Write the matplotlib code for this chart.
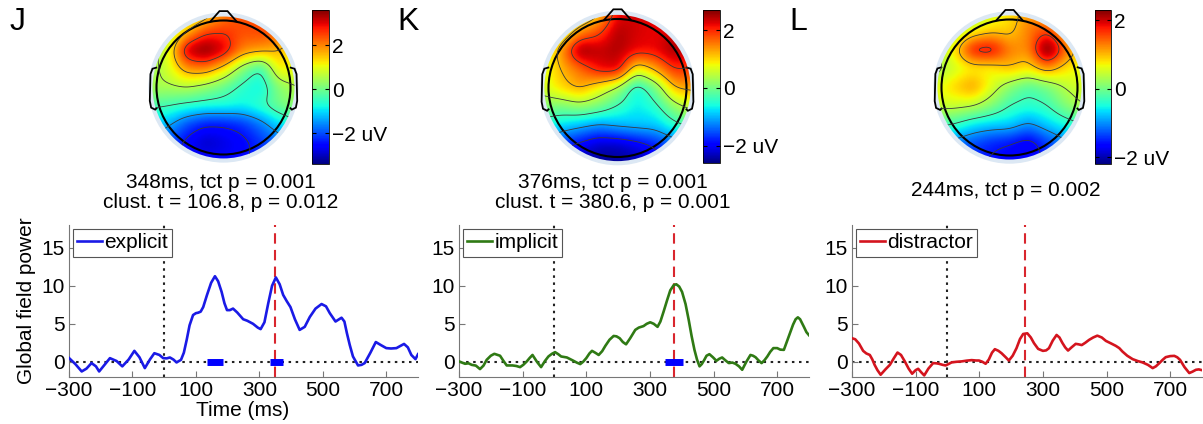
import numpy as np
import matplotlib
matplotlib.use("Agg")
import matplotlib.pyplot as plt
from matplotlib.patches import Circle, Polygon

plt.rcParams['font.family'] = ['Liberation Sans', 'DejaVu Sans']
plt.rcParams['font.size'] = 15

W, H = 1203, 424

# ---- GFP curves (time in ms, value) ----
t_explicit = [-300, -280, -260, -245, -229, -215, -205, -190, -171, -150, -132, -112, -94, -78,
              -61, -45, -31, -15, -3, 8, 18, 29, 39, 53, 62, 71, 80, 91, 100, 107, 115, 123,
              135, 148, 160, 170, 181, 190, 198, 207, 217, 230, 249, 262, 280, 295, 304, 316,
              328, 340, 352, 364, 375, 386, 398, 412, 427, 443, 459, 477, 496, 510, 522, 540,
              559, 568, 576, 585, 595, 611, 622, 632, 650, 667, 683, 700, 715, 732, 745, 756,
              768, 779, 792, 800]
v_explicit = [0.5, -0.3, -1.27, -0.9, -0.17, -0.6, -1.27, -0.5, 0.48, 0.1, -0.6, 0.3, 1.44, 0.6,
              -0.83, 0.3, 1.13, 0.9, 0.48, 0.45, 0.57, 0.3, -0.08, 0.26, 1.2, 2.9, 4.8, 6.15,
              6.4, 6.46, 6.6, 7.2, 8.8, 10.4, 11.26, 10.6, 9.2, 7.7, 6.8, 6.8, 7.0, 6.5, 5.6,
              5.4, 5.0, 4.5, 4.3, 5.2, 7.7, 10.0, 11.1, 10.2, 8.8, 8.0, 7.2, 5.6, 4.2, 4.6, 5.9,
              7.0, 7.6, 7.3, 6.4, 5.3, 5.8, 5.3, 3.75, 2.2, 0.7, -0.48, -0.4, -0.17, 1.2, 2.6,
              2.2, 1.8, 1.75, 1.8, 2.1, 2.35, 1.9, 0.9, 0.35, 1.0]

t_implicit = [-300, -281, -270, -260, -247, -234, -223, -213, -200, -189, -171, -160, -150, -132,
              -120, -108, -98, -87, -78, -69, -55, -42, -30, -19, -8, 2, 12, 21, 39, 58, 70, 81,
              90, 100, 110, 118, 128, 139, 150, 160, 173, 186, 195, 205, 215, 225, 238, 254,
              265, 280, 290, 301, 312, 324, 333, 343, 354, 364, 375, 383, 392, 401, 412, 422,
              431, 440, 448, 456, 463, 471, 478, 487, 498, 509, 518, 527, 537, 548, 559, 569,
              580, 590, 603, 616, 624, 632, 641, 651, 660, 669, 678, 688, 700, 710, 721, 730,
              740, 750, 758, 765, 772, 784, 792, 800]
v_implicit = [0.05, -0.26, -0.2, -0.4, -0.5, -0.96, -0.5, 0.26, 0.8, 1.05, 0.8, 0.1, -0.48, -0.48,
              -0.55, -0.7, -0.4, 0.05, 0.5, 0.9, 0.0, -0.7, 0.1, 0.7, 1.05, 1.27, 1.0, 0.7, 0.57,
              0.17, -0.1, -0.3, 0.0, 0.48, 1.1, 1.44, 1.2, 0.9, 1.4, 2.1, 2.9, 3.4, 3.35, 3.1,
              2.6, 2.3, 3.1, 4.2, 4.5, 4.7, 5.0, 5.2, 5.0, 4.6, 5.3, 6.6, 8.1, 9.4, 10.1, 10.2,
              9.9, 9.2, 7.6, 5.5, 3.4, 1.57, 0.3, -0.6, -0.3, 0.26, 0.8, 1.0, 0.6, 0.13, 0.4,
              0.57, 0.2, -0.17, -0.1, -0.26, -0.6, -1.05, 0.0, 0.9, 0.8, 0.6, 0.2, -0.17, 0.2,
              0.7, 1.3, 1.8, 1.8, 1.6, 1.57, 2.6, 3.75, 4.9, 5.6, 5.85, 5.6, 4.6, 3.9, 3.5]

t_distractor = [-300, -290, -278, -265, -255, -244, -236, -229, -220, -210, -195, -181, -168,
                -157, -146, -134, -122, -111, -100, -92, -82, -73, -60, -45, -35, -27, -15, -6,
                3, 13, 28, 44, 60, 76, 90, 99, 110, 120, 130, 140, 149, 160, 170, 183, 193, 205,
                217, 228, 238, 251, 262, 272, 285, 300, 310, 319, 331, 343, 352, 361, 370, 379,
                390, 403, 412, 422, 433, 445, 458, 471, 485, 498, 515, 529, 540, 550, 565, 582,
                598, 613, 630, 645, 655, 666, 676, 686, 700, 713, 722, 731, 745, 760, 770, 781,
                790, 800]
v_distractor = [3.1, 2.97, 2.4, 1.44, 1.1, 0.9, 0.3, -0.4, -1.1, -1.7, -1.0, -0.4, 0.5, 1.22,
                0.9, 0.05, -0.9, -1.57, -1.1, -0.92, -1.4, -1.79, -0.9, -0.17, -0.2, -0.26, -0.4,
                -0.48, -0.3, -0.08, 0.0, 0.05, 0.15, 0.22, 0.17, 0.17, 0.0, -0.26, 0.3, 1.2,
                1.66, 1.45, 1.13, 0.6, 0.17, 0.8, 1.79, 3.0, 3.66, 3.75, 3.2, 2.45, 1.7, 1.44,
                1.5, 1.79, 2.8, 3.53, 3.2, 2.5, 1.9, 1.48, 1.9, 2.36, 2.3, 2.2, 2.5, 2.88, 3.2,
                3.44, 3.2, 2.75, 2.4, 2.1, 1.8, 1.35, 0.8, 0.35, 0.1, -0.08, -0.4, -0.83, -0.6,
                -0.17, 0.25, 0.61, 0.75, 0.78, 0.6, 0.26, -0.7, -1.48, -1.3, -1.05, -1.0, -1.1]

peak_times = [348, 376, 244]
sig_explicit = [(135, 184), (335, 373)]
sig_implicit = [(348, 404)]
sig_distractor = []

# ---- topography samples: 9x9 grid, x and y from -1.1 to 1.1, rows top -> bottom ----
topo_explicit = [[0.3, 0.4, 0.6, 1.2, 2.0, 2.4, 2.3, 2.0, 1.8],
                 [0.3, 0.5, 1.6, 2.5, 2.6, 2.4, 2.5, 2.3, 2.0],
                 [0.3, 1.0, 3.3, 3.7, 3.1, 2.0, 1.8, 1.6, 1.0],
                 [0.3, 0.9, 1.9, 2.0, 1.3, 0.2, -0.6, 1.3, 1.0],
                 [0.5, 0.5, 0.6, 0.3, -0.1, -0.6, -0.9, 0.2, 0.6],
                 [-0.3, -0.4, -0.6, -0.7, -0.7, -0.8, -0.5, 0.0, 0.3],
                 [-1.0, -1.3, -2.0, -2.4, -2.4, -2.2, -1.7, -1.0, -0.6],
                 [-1.5, -2.0, -2.6, -3.0, -2.8, -2.6, -2.2, -1.8, -1.3],
                 [-1.8, -2.2, -2.5, -2.6, -2.6, -2.5, -2.2, -2.0, -1.8]]
topo_implicit = [[0.0, 0.3, 0.5, 1.0, 2.2, 2.3, 2.2, 2.0, 1.8],
                 [0.0, 0.5, 1.4, 1.8, 2.5, 2.3, 2.2, 2.3, 2.0],
                 [0.5, 1.4, 2.7, 2.4, 2.5, 2.2, 2.2, 2.6, 2.2],
                 [0.6, 1.2, 1.6, 2.2, 2.3, 0.7, 1.3, 2.0, 1.9],
                 [0.6, 1.0, 1.3, 0.8, 0.3, -0.7, 0.0, 1.2, 1.3],
                 [0.1, 0.0, 0.2, 0.0, -0.4, -0.7, -0.5, 0.2, 0.6],
                 [-0.6, -0.8, -1.0, -1.2, -1.0, -0.9, -0.9, -0.5, -0.2],
                 [-1.3, -1.7, -2.0, -2.3, -2.3, -2.1, -1.8, -1.4, -1.1],
                 [-1.8, -2.1, -2.4, -2.5, -2.5, -2.4, -2.1, -1.8, -1.5]]
topo_distractor = [[0.0, 0.0, 0.2, 0.5, 0.8, 1.2, 1.0, 0.8, 0.6],
                   [0.0, 0.3, 0.7, 0.9, 0.9, 1.3, 1.6, 0.9, 0.6],
                   [0.3, 0.8, 1.9, 2.0, 1.3, 1.2, 2.6, 1.4, 0.7],
                   [0.2, 0.5, 0.7, 0.7, 1.0, 0.8, 1.2, 0.8, 0.6],
                   [0.6, 0.9, 1.2, 0.6, 0.1, -0.2, 0.0, 0.4, 0.6],
                   [0.5, 0.5, 0.4, 0.1, -0.3, -0.4, -0.3, 0.1, 0.4],
                   [-0.2, -0.3, -0.6, -0.7, -0.7, -1.0, -0.7, -0.5, -0.3],
                   [-0.8, -1.1, -1.3, -1.5, -1.6, -1.8, -1.4, -1.0, -0.7],
                   [-1.2, -1.4, -1.5, -1.6, -1.7, -1.7, -1.5, -1.2, -1.0]]
clims = [(-3.4, 3.6), (-2.6, 2.7), (-2.2, 2.3)]

names = ['explicit', 'implicit', 'distractor']
colors = ['#1a1ae6', '#2f7a14', '#d4141e']
letters = ['J', 'K', 'L']
captions = [['348ms, tct p = 0.001', 'clust. t = 106.8, p = 0.012'],
            ['376ms, tct p = 0.001', 'clust. t = 380.6, p = 0.001'],
            ['244ms, tct p = 0.002']]


def box(l, t, r, b):
    return [l / W, 1 - b / H, (r - l) / W, (b - t) / H]


def smooth_field(grid, n=141, sigma=5):
    g = np.asarray(grid, float)[::-1]  # row 0 = bottom
    coarse = np.linspace(-1.1, 1.1, g.shape[0])
    fine = np.linspace(-1.1, 1.1, n)
    rows = np.array([np.interp(fine, coarse, r) for r in g])
    full = np.array([np.interp(fine, coarse, c) for c in rows.T]).T
    k = np.exp(-0.5 * (np.arange(-3 * sigma, 3 * sigma + 1) / sigma) ** 2)
    k /= k.sum()
    p = np.pad(full, 3 * sigma, mode='edge')
    p = np.apply_along_axis(lambda v: np.convolve(v, k, mode='valid'), 0, p)
    p = np.apply_along_axis(lambda v: np.convolve(v, k, mode='valid'), 1, p)
    return fine, p


def draw_head(fig, cx, cy, r, grid, clim, cbox):
    s = 1.25
    ax = fig.add_axes(box(cx - s * r, cy - s * r, cx + s * r, cy + s * r))
    ax.set_xlim(-s, s)
    ax.set_ylim(-s, s)
    ax.axis('off')
    fine, field = smooth_field(grid)
    im = ax.imshow(field, origin='lower', extent=[-1.1, 1.1, -1.1, 1.1], cmap='jet',
                   vmin=clim[0], vmax=clim[1], interpolation='bilinear')
    im.set_clip_path(Circle((0, 0), 1.08, transform=ax.transData))
    X, Y = np.meshgrid(fine, fine)
    levels = np.linspace(clim[0], clim[1], 8)[1:-1]
    cs = ax.contour(X, Y, field, levels=levels, colors='#3a3a3a', linewidths=0.6,
                    linestyles='solid')
    cs.set_clip_path(Circle((0, 0), 1.06, transform=ax.transData))
    ax.add_patch(Circle((0, 0), 1.09, fill=False, ec='#dce8f4', lw=3))
    ax.add_patch(Circle((0, 0), 1.0, fill=False, ec='black', lw=1.5))
    ax.add_patch(Polygon([[-0.2, 0.98], [-0.06, 1.14], [0.06, 1.14], [0.2, 0.98]],
                         closed=False, fill=False, ec='black', lw=1.3))
    for sgn in (-1, 1):
        ear = [[sgn * 0.99, 0.3], [sgn * 1.06, 0.28], [sgn * 1.09, 0.2], [sgn * 1.1, -0.2],
               [sgn * 1.08, -0.3], [sgn * 1.02, -0.33], [sgn * 0.99, -0.3]]
        ax.add_patch(Polygon(ear, closed=False, fill=False, ec='black', lw=1.3))
    cax = fig.add_axes(box(*cbox))
    cb = fig.colorbar(im, cax=cax, ticks=[-2, 0, 2])
    cb.ax.set_yticklabels(['\u22122 uV', '0', '2'])
    cb.ax.tick_params(direction='in', left=True, right=True, length=3, width=0.8,
                      pad=2, labelsize=15)
    cb.outline.set_linewidth(0.6)


fig = plt.figure(figsize=(W / 100, H / 100), dpi=100)

heads = [(223.5, 87.5, 67), (617.5, 88, 69), (1009.5, 87.5, 68)]
cboxes = [(312, 10, 329, 164), (703, 10, 720, 163), (1095, 10, 1111, 164)]
grids = [topo_explicit, topo_implicit, topo_distractor]
for (cx, cy, r), grid, clim, cb in zip(heads, grids, clims, cboxes):
    draw_head(fig, cx, cy, r, grid, clim, cb)

cap_x = [221, 613, 1006]
for cx, lines in zip(cap_x, captions):
    ys = [182, 203] if len(lines) == 2 else [190]
    for y, txt in zip(ys, lines):
        fig.text(cx / W, 1 - y / H, txt, ha='center', va='center', fontsize=15)

for x, lt in zip([18, 408, 798], letters):
    fig.text(x / W, 1 - 22 / H, lt, ha='center', va='center', fontsize=23)

line_boxes = [(69, 225, 418, 377), (459, 225, 809, 377), (852, 225, 1202, 377)]
series = [(t_explicit, v_explicit), (t_implicit, v_implicit), (t_distractor, v_distractor)]
sigs = [sig_explicit, sig_implicit, sig_distractor]
for i in range(3):
    ax = fig.add_axes(box(*line_boxes[i]))
    ax.set_xlim(-300, 800)
    ax.set_ylim(-2, 18)
    ax.axhline(0, color='#222222', ls=(0, (1.2, 2.2)), lw=1.5, zorder=1)
    ax.axvline(0, color='#222222', ls=(0, (1.2, 2.2)), lw=1.5, zorder=1)
    ax.axvline(peak_times[i], color='#d9262e', ls=(0, (5, 3)), lw=1.5, zorder=1)
    for a, b in sigs[i]:
        ax.plot([a, b], [0, 0], color='#0000ff', lw=5, solid_capstyle='butt', zorder=2)
    ax.plot(series[i][0], series[i][1], color=colors[i], lw=1.9, label=names[i], zorder=3)
    ax.set_xticks([-300, -100, 100, 300, 500, 700])
    ax.set_yticks([0, 5, 10, 15])
    ax.tick_params(direction='in', length=4, color='#777777', labelsize=15, pad=3)
    for sp in ['top', 'right']:
        ax.spines[sp].set_visible(False)
    for sp in ['left', 'bottom']:
        ax.spines[sp].set_color('#777777')
        ax.spines[sp].set_linewidth(0.8)
    leg = ax.legend(loc='upper left', fontsize=15, handlelength=1.2, handletextpad=0.1,
                    borderpad=0.2, borderaxespad=0.2, fancybox=False, framealpha=1)
    leg.get_frame().set_edgecolor('#555555')
    leg.get_frame().set_linewidth(0.8)
    if i == 0:
        ax.set_ylabel('Global field power', fontsize=15, labelpad=4)

fig.text(243 / W, 1 - 410 / H, 'Time (ms)', ha='center', va='center', fontsize=15)

fig.savefig('out.png', dpi=100)
